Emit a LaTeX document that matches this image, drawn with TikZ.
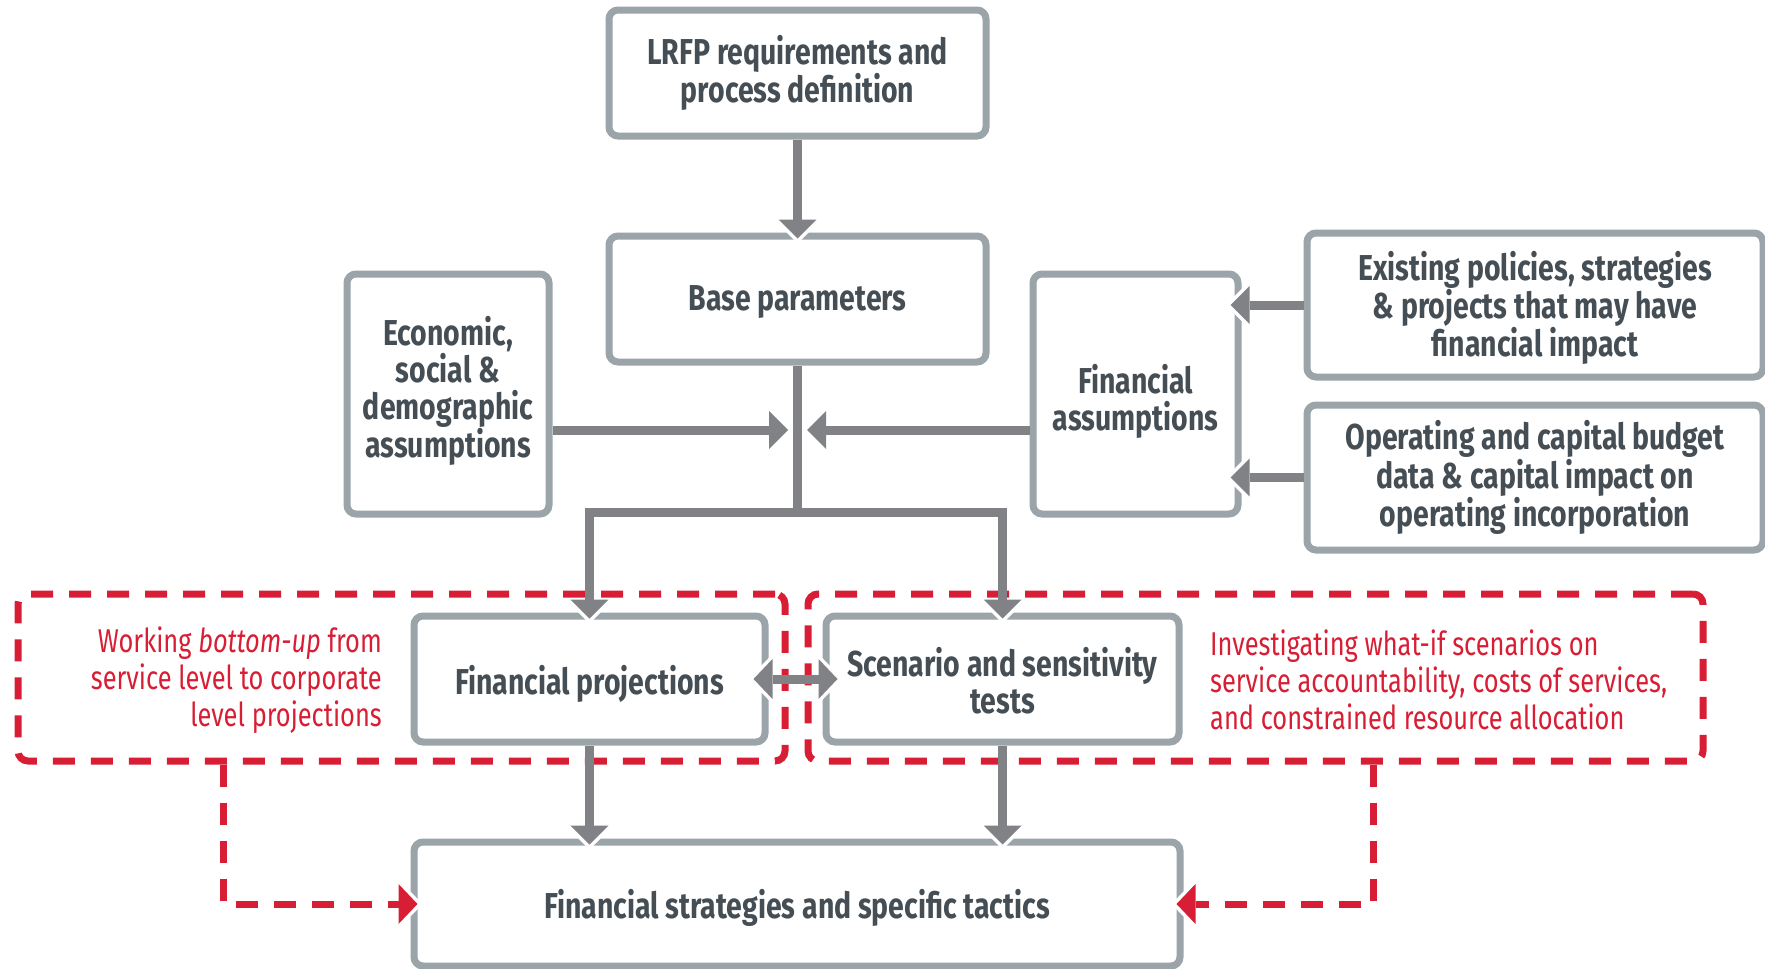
\documentclass[tikz,border=0pt]{standalone}
\usepackage{fontspec}
\setmainfont[FakeStretch=0.79]{Fira Sans}
\newfontfamily\redfont[FakeStretch=0.77]{Fira Sans}
\usetikzlibrary{arrows.meta}
\definecolor{boxgray}{HTML}{9BA4A9}
\definecolor{conngray}{HTML}{818286}
\definecolor{txtgray}{HTML}{454E54}
\definecolor{lrfred}{HTML}{D81E35}
\tikzset{
  box/.style={draw=boxgray, line width=7pt, rounded corners=9pt, fill=white, inner sep=0pt},
  btext/.style={align=center, text=txtgray, font=\bfseries\fontsize{36}{37}\selectfont, inner sep=0pt},
  dashbox/.style={draw=lrfred, line width=7pt, dash pattern=on 22pt off 16pt, rounded corners=10pt, inner sep=0pt},
  redtxt/.style={text=lrfred, font=\redfont\fontsize{33}{37}\selectfont, inner sep=0pt},
  conn/.style={draw=conngray, line width=9pt},
  garrow/.style={conn, -{Triangle[width=38pt,length=19pt,line width=0pt]}, shorten >=#1,
    preaction={draw=white, -{Triangle[width=50pt,length=25pt,line width=0pt]}, shorten >=#1-5pt}},
  garrow/.default=0pt,
  gdouble/.style={conn, {Triangle[width=40pt,length=19pt,line width=0pt]}-{Triangle[width=40pt,length=19pt,line width=0pt]},
    shorten >=-15pt, shorten <=-15pt,
    preaction={draw=white, {Triangle[width=52pt,length=25pt,line width=0pt]}-{Triangle[width=52pt,length=25pt,line width=0pt]},
    shorten >=-20pt, shorten <=-20pt}},
  redarrow/.style={draw=lrfred, line width=7pt, dash pattern=on 22pt off 16pt,
    -{Triangle[width=40pt,length=19pt,line width=0pt]}, shorten >=-7pt,
    preaction={draw=white, -{Triangle[width=52pt,length=25pt,line width=0pt]}, shorten >=-12pt}},
}
\begin{document}
\begin{tikzpicture}[x=1pt,y=-1pt]
\useasboundingbox[fill=white] (0,0) rectangle (1765,969);

% dashed frames
\node[dashbox, minimum width=767pt, minimum height=167pt] (dashL) at (401.5,677.5) {};
\node[dashbox, minimum width=895pt, minimum height=167pt] (dashR) at (1255.5,677.5) {};

% boxes
\node[box, minimum width=377pt, minimum height=126pt,
  label={[btext]center:LRFP requirements and\\process definition}] (lrfp) at (797.5,73) {};
\node[box, minimum width=377pt, minimum height=126pt,
  label={[btext,yshift=-3pt]center:Base parameters}] (base) at (797.5,299) {};
\node[box, minimum width=202pt, minimum height=240pt,
  label={[btext,yshift=3pt]center:Economic,\\social \&\\demographic\\assumptions}] (econ) at (448,394) {};
\node[box, minimum width=205pt, minimum height=240pt,
  label={[btext,yshift=-7pt]center:Financial\\assumptions}] (finas) at (1135.5,394) {};
\node[box, minimum width=456pt, minimum height=144pt,
  label={[btext,yshift=-3pt]center:Existing policies, strategies\\\& projects that may have\\financial impact}] (exist) at (1535,305) {};
\node[box, minimum width=456pt, minimum height=145pt,
  label={[btext]center:Operating and capital budget\\data \& capital impact on\\operating incorporation}] (oper) at (1535,477.5) {};
\node[box, minimum width=351pt, minimum height=126pt,
  label={[btext,yshift=-5pt]center:Financial projections}] (proj) at (589.5,679) {};
\node[box, minimum width=353pt, minimum height=126pt,
  label={[btext,yshift=-2pt]center:Scenario and sensitivity\\tests}] (scen) at (1002.5,679) {};
\node[box, minimum width=766pt, minimum height=124pt,
  label={[btext,yshift=-4pt]center:Financial strategies and specific tactics}] (strat) at (797,904) {};

% red notes
\node[redtxt, anchor=east, align=right] (noteL) at (382,680) {Working \textit{bottom-up} from\\service level to corporate\\level projections};
\node[redtxt, anchor=west, align=left] (noteR) at (1210,680) {Investigating what-if scenarios on\\service accountability, costs of services,\\and constrained resource allocation};

% gray connectors
\coordinate (hub) at (797.5,512);
\coordinate (ml) at (788,430);
\coordinate (mr) at (807,430);
\draw[conn] (base.south) -- (hub);
\draw[garrow=-6pt] (hub) -| (proj.north);
\draw[garrow=-6pt] (hub) -| (scen.north);
\draw[garrow=-6pt] (lrfp.south) -- (base.north);
\draw[garrow] (econ.east |- ml) -- (ml);
\draw[garrow] (finas.west |- mr) -- (mr);
\draw[garrow=-11pt] (exist.west) -- (finas.east |- exist.west);
\draw[garrow=-11pt] (oper.west) -- (finas.east |- oper.west);
\draw[gdouble] (proj.east) -- (scen.west);
\draw[garrow=-6pt] (proj.south) -- (proj.south |- strat.north);
\draw[garrow=-6pt] (scen.south) -- (scen.south |- strat.north);

% red connectors
\coordinate (rl) at (223,0);
\coordinate (rr) at (1373,0);
\draw[redarrow] (dashL.south -| rl) |- (strat.west);
\draw[redarrow] (dashR.south -| rr) |- (strat.east);
\end{tikzpicture}
\end{document}
